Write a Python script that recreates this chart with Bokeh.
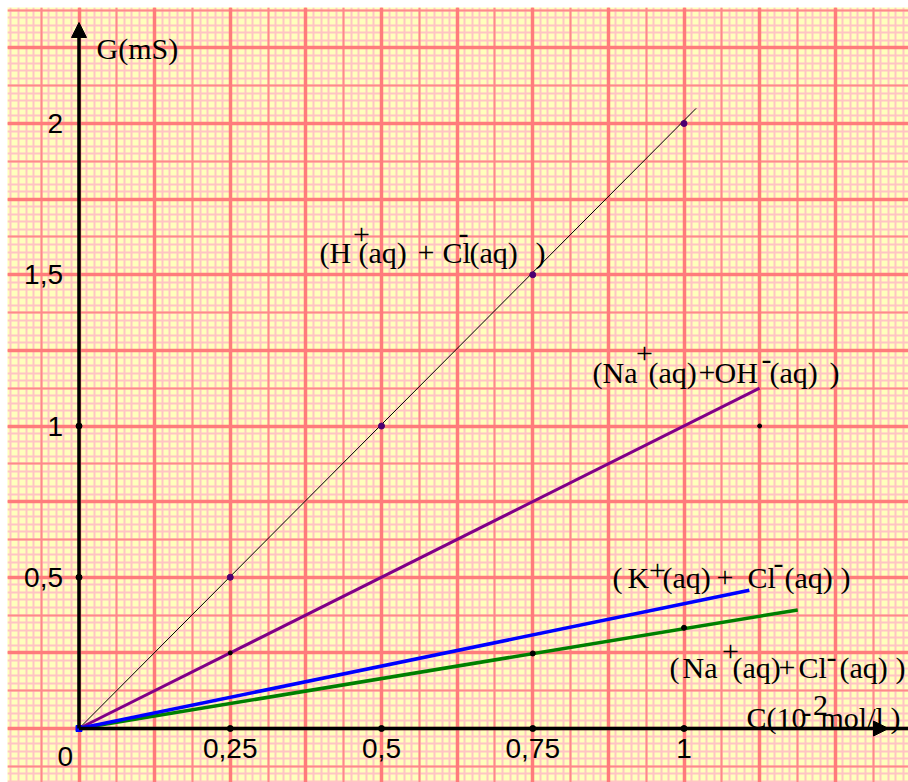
from bokeh.plotting import figure
from bokeh.models import (Range1d, Grid, SingleIntervalTicker, FixedTicker, LinearAxis,
                          Arrow, NormalHead)
from bokeh.core.properties import value
from bokeh.embed import file_html
from bokeh.resources import INLINE

# ---------------- data ----------------
x_ticks = [0.25, 0.5, 0.75, 1.0]
x_tick_labels = ["0,25", "0,5", "0,75", "1"]
y_ticks = [0.5, 1.0, 1.5, 2.0]
y_tick_labels = ["0,5", "1", "1,5", "2"]

# lines (drawn from origin to the end of each trace)
hcl_line_x = [0.0, 1.02]
hcl_line_y = [0.0, 2.05]
naoh_line_x = [0.0, 1.125]
naoh_line_y = [0.0, 1.125]
kcl_line_x = [0.0, 1.108]
kcl_line_y = [0.0, 0.457]
nacl_line_x = [0.0, 1.188]
nacl_line_y = [0.0, 0.392]

# measured points
hcl_pts_x = [0.25, 0.5, 0.75, 1.0]
hcl_pts_y = [0.5, 1.0, 1.5, 2.0]
naoh_pts_x = [0.25, 1.125]
naoh_pts_y = [0.25, 1.0]
nacl_pts_x = [0.75, 1.0]
nacl_pts_y = [0.248, 0.333]
axis_dot_x = [0.25, 0.5, 0.75, 1.0, 0.0, 0.0]
axis_dot_y = [0.0, 0.0, 0.0, 0.0, 0.5, 1.0]

# ---------------- layout helpers ----------------
W, H = 908, 782
FL, FT = 7, 7            # white strip left / top, the paper starts here
OX, OY = 78.5, 728.0     # page pixel of the origin
SX, SY = 605.0, 302.5    # pixels per unit


def dx(px):
    return (px - OX) / SX


def dy(py):
    return (OY - py) / SY


p = figure(width=W, height=H, output_backend="svg", toolbar_location=None,
           x_range=Range1d(dx(FL), dx(W)),
           y_range=Range1d(dy(H), dy(FT)),
           x_axis_type=None, y_axis_type=None, min_border=0,
           min_border_left=FL, min_border_top=FT)
p.outline_line_color = None
p.background_fill_color = "#FFFFBC"
p.border_fill_color = "white"

# graph paper
for iv_x, iv_y, col, w in [(0.0125, 0.025, "#FFC4C4", 2.0),
                           (0.0625, 0.125, "#FF8A8A", 2.0),
                           (0.125, 0.25, "#FF7C7C", 3.5)]:
    p.add_layout(Grid(dimension=0, ticker=SingleIntervalTicker(interval=iv_x, num_minor_ticks=0),
                      grid_line_color=col, grid_line_width=w))
    p.add_layout(Grid(dimension=1, ticker=SingleIntervalTicker(interval=iv_y, num_minor_ticks=0),
                      grid_line_color=col, grid_line_width=w))

# axes (labels only)
xax = LinearAxis(fixed_location=0, ticker=FixedTicker(ticks=x_ticks),
                 major_label_overrides=dict(zip(x_ticks, x_tick_labels)),
                 axis_line_color=None, major_tick_line_color=None, minor_tick_line_color=None,
                 major_label_text_font="Liberation Sans", major_label_text_font_size="28px",
                 major_label_text_color="black", major_label_standoff=4)
p.add_layout(xax, "below")
yax = LinearAxis(fixed_location=0, ticker=FixedTicker(ticks=y_ticks),
                 major_label_overrides=dict(zip(y_ticks, y_tick_labels)),
                 axis_line_color=None, major_tick_line_color=None, minor_tick_line_color=None,
                 major_label_text_font="Liberation Sans", major_label_text_font_size="28px",
                 major_label_text_color="black", major_label_standoff=10)
p.add_layout(yax, "left")

# axis arrows
p.add_layout(Arrow(end=NormalHead(size=15, fill_color="black", line_color="black"),
                   x_start=0, y_start=0, x_end=dx(888), y_end=0,
                   line_width=3.5, line_color="black"))
p.segment(x0=[dx(885)], y0=[0], x1=[dx(W)], y1=[0], line_color="black", line_width=3.5)
p.segment(x0=[dx(697)], y0=[0], x1=[dx(874)], y1=[0], line_color="#c8c8c8", line_width=1.3)
p.add_layout(Arrow(end=NormalHead(size=15, fill_color="black", line_color="black"),
                   x_start=0, y_start=0, x_end=0, y_end=dy(22),
                   line_width=3.5, line_color="black"))

# data lines
p.line(hcl_line_x, hcl_line_y, line_color="black", line_width=1)
p.line(naoh_line_x, naoh_line_y, line_color="#800088", line_width=3)
p.line(nacl_line_x, nacl_line_y, line_color="#008000", line_width=3.5)
p.line(kcl_line_x, kcl_line_y, line_color="#0000FF", line_width=3.5)

# points
p.scatter(axis_dot_x, axis_dot_y, size=6, color="black")
p.scatter(hcl_pts_x, hcl_pts_y, size=6, color="#4B0070")
p.scatter(naoh_pts_x, naoh_pts_y, size=4, color="black")
p.scatter(nacl_pts_x, nacl_pts_y, size=5, color="black")
p.scatter([0], [0], marker="square", size=6, color="#0000FF")

# ---------------- texts ----------------
SERIF = value("Liberation Serif")
SANS = value("Liberation Sans")
FS = "30px"

# (text, left px, baseline px)
main_pieces = [
    ("G(mS)", 96, 48),
    ("(H", 319, 252), ("(aq)", 358, 252), ("+", 417, 252), ("Cl", 442, 252),
    ("(aq)", 469, 252), (")", 535, 252),
    ("(Na", 592, 372), ("(aq)", 648, 372), ("+", 698, 372), ("OH", 714, 372),
    ("(aq)", 769, 372), (")", 829, 372),
    ("(", 612, 577), ("K", 627, 577), ("(aq)", 662, 577), ("+", 716, 577), ("Cl", 747, 577),
    ("(aq)", 784, 577), (")", 840, 577),
    ("(", 669, 667), ("Na", 682, 667), ("(aq)", 732, 667), ("+", 778, 667), ("Cl", 798, 667),
    ("(aq)", 839, 667), (")", 895, 667),
    ("C(10", 746, 717), ("mol/l", 820, 717), (")", 890, 717),
]
p.text(x=[dx(a[1]) for a in main_pieces], y=[dy(a[2]) for a in main_pieces],
       text=[a[0] for a in main_pieces], text_font=SERIF, text_font_size=FS,
       text_align="left", text_baseline="alphabetic", text_color="black")

# superscripts: (text, centre px, baseline px)
sup_pieces = [
    ("+", 361, 234), ("-", 463, 233),
    ("+", 644, 353), ("-", 766, 359),
    ("+", 657, 570), ("-", 778, 563),
    ("+", 730, 651), ("-", 831, 657),
    ("-", 806, 712), ("2", 820, 705),
]
p.text(x=[dx(a[1]) for a in sup_pieces], y=[dy(a[2]) for a in sup_pieces],
       text=[a[0] for a in sup_pieces], text_font=SERIF, text_font_size=FS,
       text_align="center", text_baseline="alphabetic", text_color="black")

# origin label
p.text(x=[dx(57)], y=[dy(756)], text=["0"], text_font=SANS, text_font_size="28px",
       text_align="left", text_baseline="alphabetic", text_color="black")

open("out.html", "w").write(file_html(p, INLINE))
